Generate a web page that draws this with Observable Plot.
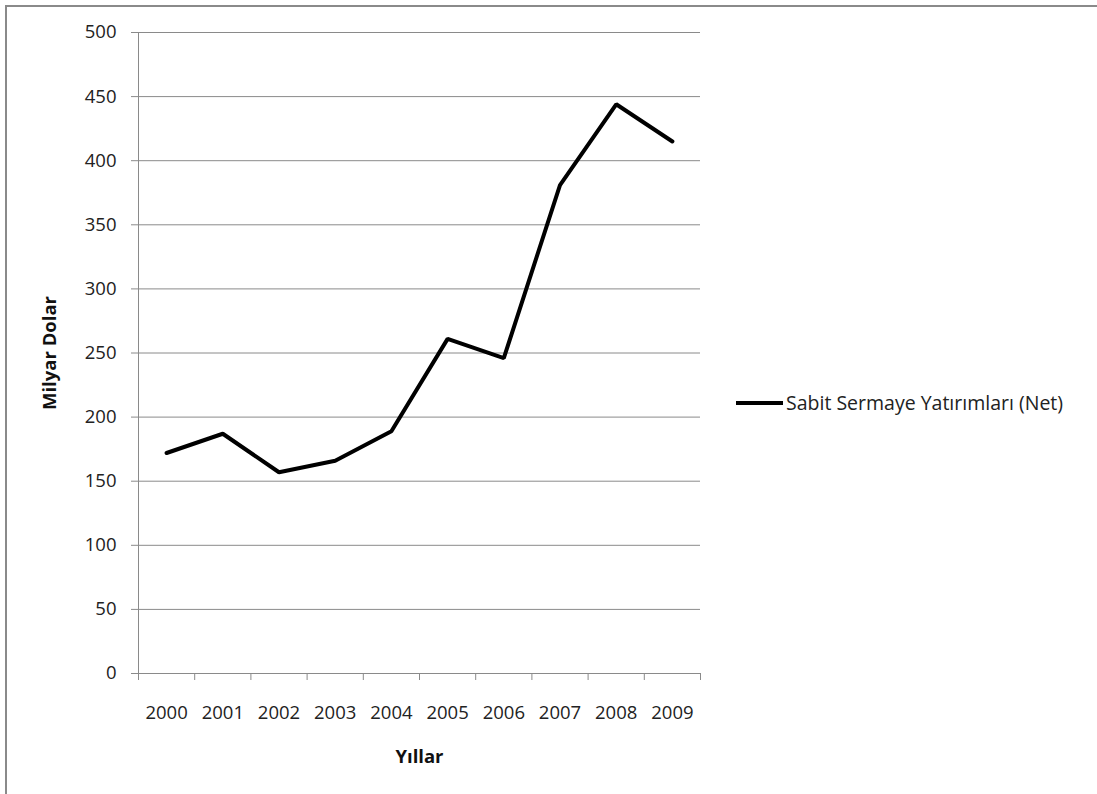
<!DOCTYPE html>
<html>
<head>
<meta charset="utf-8">
<script src="https://cdn.jsdelivr.net/npm/d3@7"></script>
<script src="https://cdn.jsdelivr.net/npm/@observablehq/plot@0.6"></script>
<style>
  html, body { margin: 0; padding: 0; background: #fff; overflow: hidden; }
  #wrap { position: relative; width: 1097px; height: 794px; }
  #frame { position: absolute; left: 5px; top: 5px; width: 1200px; height: 900px;
           border-left: 2px solid #8a8a8a; border-top: 2px solid #8a8a8a; pointer-events: none; }
  #legend { position: absolute; left: 736px; top: 389px; display: flex; align-items: center;
            font-family: "Open Sans", "DejaVu Sans", sans-serif; font-size: 19.5px; color: #222; }
  #legend .sw { width: 47px; height: 4px; background: #000; margin-right: 3px; }
</style>
</head>
<body>
<div id="wrap">
  <div id="chart"></div>
  <div id="frame"></div>
  <div id="legend"><div class="sw"></div><span id="legendText"></span></div>
</div>
<script>
const years = [2000, 2001, 2002, 2003, 2004, 2005, 2006, 2007, 2008, 2009];
const values = [172, 187, 157, 166, 189, 261, 246, 381, 444, 415];
const yTicks = [0, 50, 100, 150, 200, 250, 300, 350, 400, 450, 500];
const seriesName = "Sabit Sermaye Yatırımları (Net)";
const yLabel = "Milyar Dolar";
const xLabel = "Yıllar";

const data = years.map((y, i) => ({year: y, value: values[i]}));
const boundaries = years.map(y => y - 0.5).concat([years[years.length - 1] + 0.5]);

document.getElementById("legendText").textContent = seriesName;

const chart = Plot.plot({
  width: 1097,
  height: 794,
  marginLeft: 138,
  marginRight: 397,
  marginTop: 32,
  marginBottom: 121,
  style: {fontFamily: "'Open Sans', 'DejaVu Sans', sans-serif", fontSize: "18px", color: "#222", background: "transparent"},
  x: {type: "linear", domain: [boundaries[0], boundaries[boundaries.length - 1]]},
  y: {domain: [0, 500]},
  marks: [
    Plot.gridY(yTicks.filter(d => d > 0), {stroke: "#8a8a8a", strokeOpacity: 1, strokeWidth: 1}),
    Plot.ruleX([boundaries[0]], {stroke: "#8a8a8a", strokeWidth: 1}),
    Plot.axisY(yTicks, {tickSize: 7, tickPadding: 15, stroke: "#8a8a8a", fontSize: 18.5, label: null, tickFormat: d => String(d)}),
    Plot.ruleY([0], {x1: boundaries[0], x2: boundaries[boundaries.length - 1], stroke: "#8a8a8a", strokeWidth: 1}),
    Plot.axisX(boundaries, {tickSize: 7, stroke: "#8a8a8a", tickFormat: () => "", label: null}),
    Plot.axisX(years, {tickSize: 0, tickPadding: 32, fontSize: 18.5, label: null, tickFormat: d => String(d)}),
    Plot.line(data, {x: "year", y: "value", stroke: "#000", strokeWidth: 4, strokeLinejoin: "miter"}),
    Plot.text([yLabel], {frameAnchor: "left", dx: -88, rotate: -90, textAnchor: "middle", lineAnchor: "middle", fontWeight: "bold", fontSize: 18.5, fill: "#111"}),
    Plot.text([xLabel], {frameAnchor: "bottom", dy: 84, lineAnchor: "middle", fontWeight: "bold", fontSize: 18.5, fill: "#111"})
  ]
});
document.getElementById("chart").appendChild(chart);
</script>
</body>
</html>
